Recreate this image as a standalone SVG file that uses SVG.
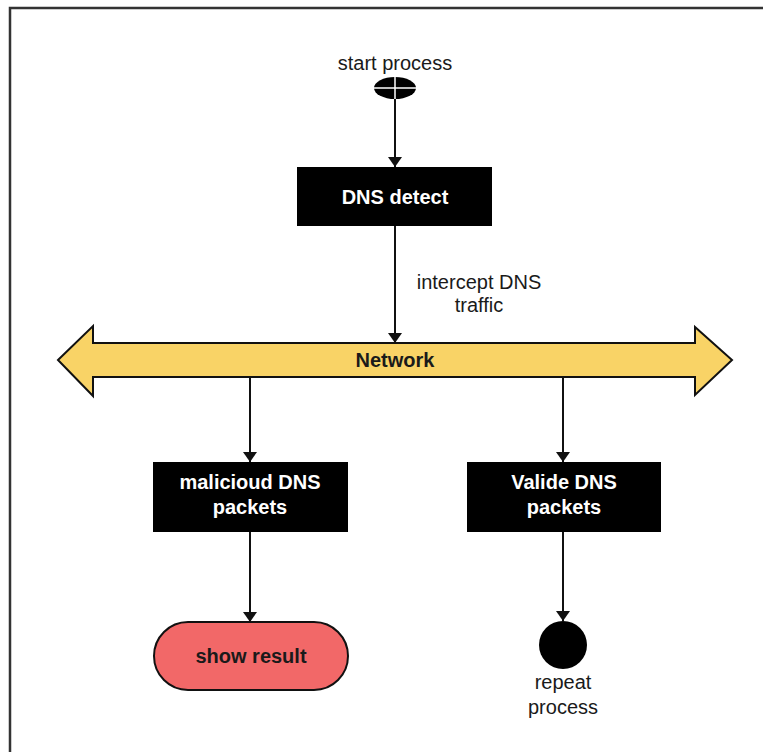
<svg xmlns="http://www.w3.org/2000/svg" width="763" height="752" viewBox="0 0 763 752">
  <style>
    .lbl { font-family: "Liberation Sans", Arial, sans-serif; font-size: 20px; fill: #1a1a1a; text-anchor: middle; }
    .box { fill: #000; }
    .boxtxt { font-family: "Liberation Sans", Arial, sans-serif; font-size: 20px; font-weight: bold; fill: #fff; text-anchor: middle; }
    .darktxt { font-family: "Liberation Sans", Arial, sans-serif; font-size: 20px; font-weight: bold; fill: #1a1a1a; text-anchor: middle; }
    .edge { stroke: #111; stroke-width: 2; fill: none; marker-end: url(#arrow); }
  </style>
  <defs>
    <marker id="arrow" viewBox="0 0 10 14" refX="10" refY="7" markerWidth="10" markerHeight="14" markerUnits="userSpaceOnUse" orient="auto">
      <path d="M0,0 L10,7 L0,14 Z" fill="#111"/>
    </marker>
  </defs>

  <rect width="763" height="752" fill="#fff"/>
  <!-- page frame -->
  <path d="M10,752 L10,8 L763,8" fill="none" stroke="#333" stroke-width="2.5"/>

  <!-- connectors -->
  <g id="connectors">
    <line class="edge" x1="395" y1="99" x2="395" y2="167"/>
    <line class="edge" x1="395" y1="226" x2="395" y2="343"/>
    <line class="edge" x1="250" y1="377" x2="250" y2="462"/>
    <line class="edge" x1="563" y1="377" x2="563" y2="462"/>
    <line class="edge" x1="250" y1="532" x2="250" y2="622"/>
    <line class="edge" x1="563" y1="532" x2="563" y2="621"/>
  </g>

  <g id="start">
    <text class="lbl" x="395" y="70">start process</text>
    <ellipse cx="395" cy="88" rx="21" ry="11" fill="#000"/>
    <line x1="374" y1="88" x2="416" y2="88" stroke="#fff" stroke-width="1.5"/>
    <line x1="395" y1="77" x2="395" y2="99" stroke="#fff" stroke-width="1.5"/>
  </g>

  <g id="dns-detect">
    <rect class="box" x="297" y="167" width="195" height="59"/>
    <text class="boxtxt" x="395" y="204">DNS detect</text>
  </g>

  <g id="intercept-label">
    <text class="lbl" x="479" y="289">intercept DNS</text>
    <text class="lbl" x="479" y="312">traffic</text>
  </g>

  <g id="network">
    <path d="M58,360 L93,326 L93,343 L695,343 L695,327 L732,360 L695,395 L695,377 L93,377 L93,396 Z" fill="#F9D366" stroke="#111" stroke-width="2" stroke-linejoin="miter"/>
    <text class="darktxt" x="395" y="367">Network</text>
  </g>

  <g id="malicious">
    <rect class="box" x="153" y="462" width="195" height="70"/>
    <text class="boxtxt" x="250" y="489">malicioud DNS</text>
    <text class="boxtxt" x="250" y="514">packets</text>
  </g>

  <g id="valid">
    <rect class="box" x="467" y="462" width="194" height="70"/>
    <text class="boxtxt" x="564" y="489">Valide DNS</text>
    <text class="boxtxt" x="564" y="514">packets</text>
  </g>

  <g id="show-result">
    <rect x="154" y="622" width="194" height="68" rx="34" ry="34" fill="#F26868" stroke="#111" stroke-width="2"/>
    <text class="darktxt" x="251" y="663">show result</text>
  </g>

  <g id="repeat">
    <circle cx="563" cy="645" r="24" fill="#000"/>
    <text class="lbl" x="563" y="689">repeat</text>
    <text class="lbl" x="563" y="714">process</text>
  </g>
</svg>
